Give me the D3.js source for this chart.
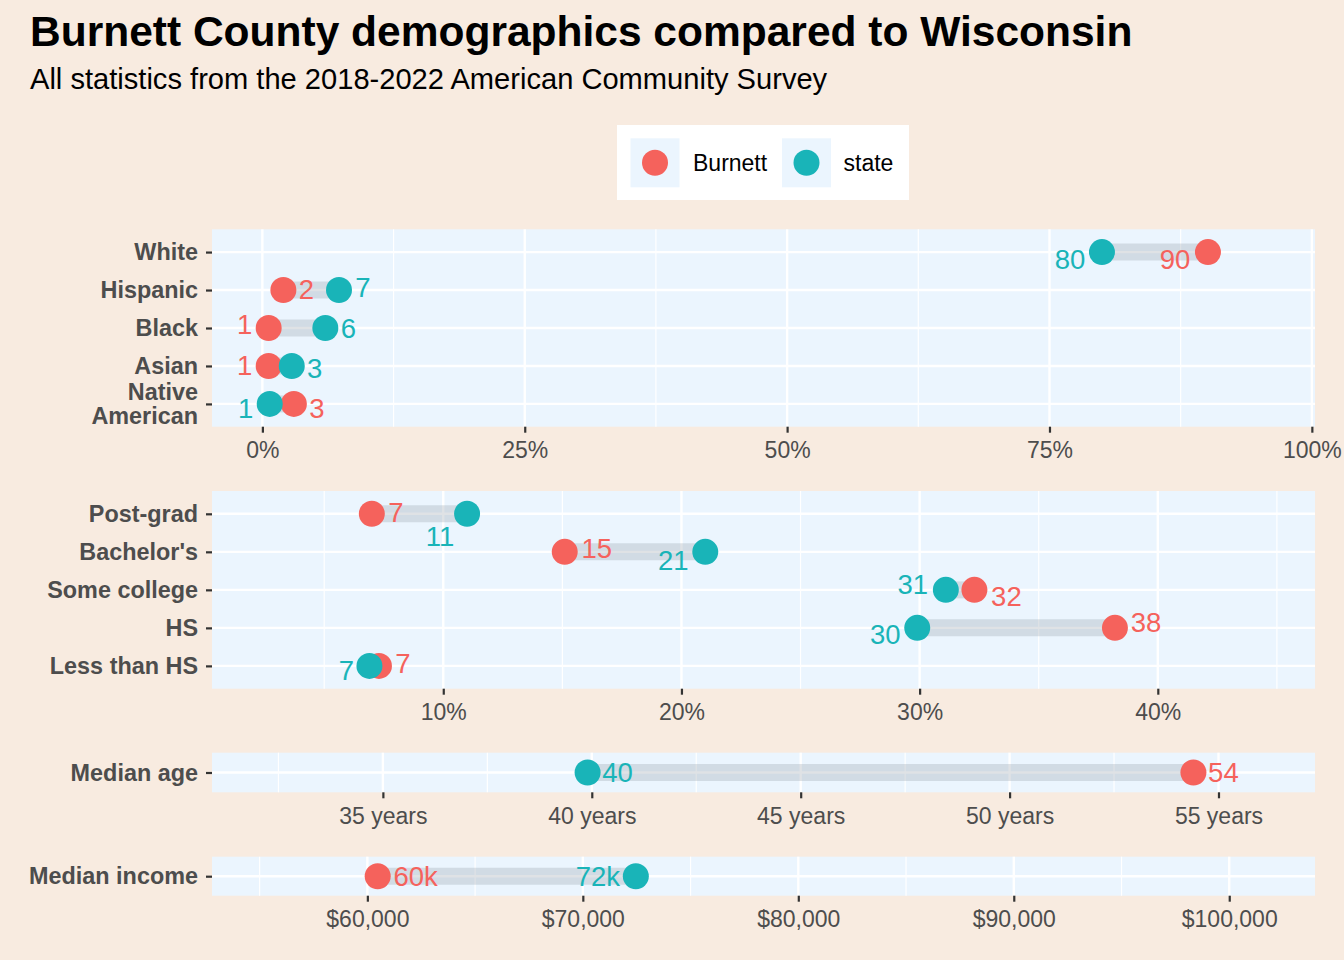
<!DOCTYPE html>
<html>
<head>
<meta charset="utf-8">
<script src="https://cdn.jsdelivr.net/npm/d3@7"></script>
<style>
  html, body { margin: 0; padding: 0; background: #f8ebe0; }
  svg { display: block; }
  text { font-family: "Liberation Sans", Arial, Helvetica, sans-serif; }
</style>
</head>
<body>
<svg id="chart" width="1344" height="960"></svg>
<script>
// ---------------- DATA ----------------
const seriesNames = ["Burnett", "state"];

const raceCategories = ["White", "Hispanic", "Black", "Asian", "Native American"];
const raceBurnett = [90.1, 2.0, 0.6, 0.6, 3.0];
const raceState   = [80.0, 7.3, 6.0, 2.8, 0.7];
const raceTicks   = [0, 25, 50, 75, 100];

const eduCategories = ["Post-grad", "Bachelor's", "Some college", "HS", "Less than HS"];
const eduBurnett = [7.0, 15.1, 32.3, 38.2, 7.3];
const eduState   = [11.0, 21.0, 31.1, 29.9, 6.9];
const eduTicks   = [10, 20, 30, 40];

const ageCategories = ["Median age"];
const ageBurnett = [54.4];
const ageState   = [39.9];
const ageTicks   = [35, 40, 45, 50, 55];

const incomeCategories = ["Median income"];
const incomeBurnett = [60480];
const incomeState   = [72460];
const incomeTicks   = [60000, 70000, 80000, 90000, 100000];

// label nudges (px) – layout only, kept apart from the data
const raceNudgeB = [[-33, 7], [23, -1], [-24, -4], [-24, 0], [23, 5]];
const raceNudgeS = [[-32, 7], [24, -3], [23, 0], [23, 3], [-24, 5]];
const eduNudgeB  = [[24, -1], [32, -3], [32, 7], [31, -5], [24, -2]];
const eduNudgeS  = [[-27, 23], [-32, 9], [-33, -5], [-32, 7], [-23, 5]];
const ageNudgeB  = [[30, 0]];
const ageNudgeS  = [[30, 0]];
const incomeNudgeB = [[38, 0]];
const incomeNudgeS = [[-38, 0]];

// ---------------- STYLE ----------------
const COL_B = "#f5625c";
const COL_S = "#19b4b8";
const PANEL_BG = "#ebf5fe";
const TEXT_COL = "#4d4d4d";
const TICK_COL = "#333333";

const svg = d3.select("#chart");
svg.append("rect").attr("width", 1344).attr("height", 960).attr("fill", "#f8ebe0");

// Title & subtitle
svg.append("text").attr("x", 30).attr("y", 46)
  .attr("font-size", 42.5).attr("font-weight", "bold")
  .attr("fill", "#000").text("Burnett County demographics compared to Wisconsin");
svg.append("text").attr("x", 30).attr("y", 89)
  .attr("font-size", 29.1)
  .attr("fill", "#000").text("All statistics from the 2018-2022 American Community Survey");

// Legend
const legend = svg.append("g");
legend.append("rect").attr("x", 617).attr("y", 125).attr("width", 292).attr("height", 75).attr("fill", "#fff");
const legendItems = [
  { name: seriesNames[0], col: COL_B, kx: 630.5, tx: 693 },
  { name: seriesNames[1], col: COL_S, kx: 782, tx: 843.5 }
];
legendItems.forEach(it => {
  legend.append("rect").attr("x", it.kx).attr("y", 138.3).attr("width", 49).attr("height", 49).attr("fill", PANEL_BG);
  legend.append("circle").attr("cx", it.kx + 24.5).attr("cy", 162.8).attr("r", 13).attr("fill", it.col);
  legend.append("text").attr("x", it.tx).attr("y", 171).attr("font-size", 23).attr("fill", "#000").text(it.name);
});

// ---------------- PANELS ----------------
const X0 = 212, X1 = 1315;
const panels = [
  { cats: raceCategories, b: raceBurnett, s: raceState, ticks: raceTicks, top: 229.3, bottom: 426.7,
    domain: [-4.8, 100.3], fmtTick: d => d + "%", fmtLab: d => d3.format(".0f")(d),
    nb: raceNudgeB, ns: raceNudgeS },
  { cats: eduCategories, b: eduBurnett, s: eduState, ticks: eduTicks, top: 491, bottom: 688.7,
    domain: [0.29, 46.6], fmtTick: d => d + "%", fmtLab: d => d3.format(".0f")(d),
    nb: eduNudgeB, ns: eduNudgeS },
  { cats: ageCategories, b: ageBurnett, s: ageState, ticks: ageTicks, top: 752.7, bottom: 792.3,
    domain: [30.91, 57.31], fmtTick: d => d + " years", fmtLab: d => d3.format(".0f")(d),
    nb: ageNudgeB, ns: ageNudgeS },
  { cats: incomeCategories, b: incomeBurnett, s: incomeState, ticks: incomeTicks, top: 856.7, bottom: 895.7,
    domain: [52790, 103980], fmtTick: d => "$" + d3.format(",")(d), fmtLab: d => Math.round(d / 1000) + "k",
    nb: incomeNudgeB, ns: incomeNudgeS }
];

panels.forEach(p => {
  const g = svg.append("g");
  const x = d3.scaleLinear().domain(p.domain).range([X0, X1]);
  const y = d3.scalePoint().domain(p.cats).range([p.top, p.bottom]).padding(0.6);

  g.append("rect").attr("x", X0).attr("y", p.top).attr("width", X1 - X0).attr("height", p.bottom - p.top)
    .attr("fill", PANEL_BG);

  // minor grid: midpoints between major breaks (extended one step each side)
  const step = p.ticks[1] - p.ticks[0];
  const minor = [];
  for (let v = p.ticks[0] - step / 2; v <= p.ticks[p.ticks.length - 1] + step / 2 + 1e-9; v += step) minor.push(v);
  g.selectAll(".minor").data(minor.filter(v => v > p.domain[0] && v < p.domain[1])).join("line")
    .attr("x1", d => x(d)).attr("x2", d => x(d)).attr("y1", p.top).attr("y2", p.bottom)
    .attr("stroke", "#fff").attr("stroke-width", 1.2);
  g.selectAll(".major").data(p.ticks.filter(v => v >= p.domain[0] && v <= p.domain[1])).join("line")
    .attr("x1", d => x(d)).attr("x2", d => x(d)).attr("y1", p.top).attr("y2", p.bottom)
    .attr("stroke", "#fff").attr("stroke-width", 2.4);
  g.selectAll(".hgrid").data(p.cats).join("line")
    .attr("x1", X0).attr("x2", X1).attr("y1", d => y(d)).attr("y2", d => y(d))
    .attr("stroke", "#fff").attr("stroke-width", 2.4);

  // x axis
  const xAxis = d3.axisBottom(x).tickValues(p.ticks).tickFormat(p.fmtTick).tickSize(6).tickPadding(6);
  const ax = svg.append("g").attr("transform", `translate(0,${p.bottom})`).call(xAxis);
  ax.select(".domain").remove();
  ax.selectAll(".tick line").attr("stroke", TICK_COL).attr("stroke-width", 2.2);
  ax.selectAll(".tick text").attr("font-size", 23).attr("fill", TEXT_COL)
    .attr("font-family", '"Liberation Sans", Arial, Helvetica, sans-serif')
    .attr("dy", null).attr("y", 31.5).style("dominant-baseline", "alphabetic");

  // y axis
  const yAxis = d3.axisLeft(y).tickSize(6).tickPadding(8).tickFormat("");
  const ay = svg.append("g").attr("transform", `translate(${X0},0)`).call(yAxis);
  ay.select(".domain").remove();
  ay.selectAll(".tick line").attr("stroke", TICK_COL).attr("stroke-width", 2.2);
  p.cats.forEach(c => {
    const words = c === "Native American" ? ["Native", "American"] : [c];
    const lh = 24;
    words.forEach((w, i) => {
      svg.append("text").attr("x", 198).attr("y", y(c) + (i - (words.length - 1) / 2) * lh)
        .attr("text-anchor", "end").attr("dominant-baseline", "central")
        .attr("font-size", 23.4).attr("font-weight", "bold").attr("fill", TEXT_COL).text(w);
    });
  });

  // segments
  const rows = p.cats.map((c, i) => ({ c, b: p.b[i], s: p.s[i], nb: p.nb[i], ns: p.ns[i] }));
  g.selectAll(".seg").data(rows).join("line")
    .attr("x1", d => x(d.b)).attr("x2", d => x(d.s)).attr("y1", d => y(d.c)).attr("y2", d => y(d.c))
    .attr("stroke", "rgb(150,158,170)").attr("stroke-opacity", 0.3).attr("stroke-width", 17);

  // points
  g.selectAll(".pb").data(rows).join("circle")
    .attr("cx", d => x(d.b)).attr("cy", d => y(d.c)).attr("r", 13).attr("fill", COL_B);
  g.selectAll(".ps").data(rows).join("circle")
    .attr("cx", d => x(d.s)).attr("cy", d => y(d.c)).attr("r", 13).attr("fill", COL_S);

  // value labels
  const lab = (sel, key, nkey, col) => sel.data(rows).join("text")
    .attr("x", d => x(d[key]) + d[nkey][0]).attr("y", d => y(d.c) + d[nkey][1])
    .attr("text-anchor", "middle").attr("dominant-baseline", "central")
    .attr("font-size", 27.5).attr("fill", col).text(d => p.fmtLab(d[key]));
  lab(g.selectAll(".lb"), "b", "nb", COL_B);
  lab(g.selectAll(".ls"), "s", "ns", COL_S);
});
</script>
</body>
</html>
